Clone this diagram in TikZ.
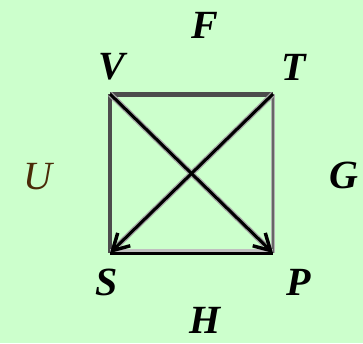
\documentclass[tikz,border=0pt]{standalone}
\usepackage{fontspec}
\setmainfont{Liberation Serif}
\usetikzlibrary{arrows.meta}
\definecolor{bg}{HTML}{CCFFCC}
\definecolor{ubrown}{HTML}{4A2A08}
\begin{document}
\begin{tikzpicture}[x=1pt,y=-1pt,
  lbl/.style={font=\fontsize{40}{40}\selectfont\bfseries\itshape, inner sep=0pt},
  edge/.style={line width=4pt},
  halo/.style={line width=5.5pt, color=black!35, shorten >=12pt},
  diag/.style={line width=3pt, -{Straight Barb[length=16pt,width=18pt,line width=3.5pt]}}]
\fill[bg] (0,0) rectangle (363,343);
\useasboundingbox (0,0) rectangle (363,343);
\coordinate (V) at (110,94);
\coordinate (T) at (273,94);
\coordinate (S) at (110,253);
\coordinate (P) at (273,253);
\draw[edge, color=black!70] (V) -- (S);
\draw[edge, color=black!70, line width=5pt] (V) -- (T);
\draw[line width=4pt, color=black!30] (T) -- (P);
\draw[line width=1.5pt, color=black!60] (T) -- (P);
\draw[line width=5pt, color=black!25] ([yshift=1.5pt]S) -- ([yshift=1.5pt]P);
\draw[line width=3pt, color=black] (S) -- (P);
\draw[halo] (V) -- (P);
\draw[halo] (T) -- (S);
\draw[diag] (V) -- (P);
\draw[diag] (T) -- (S);
\node[lbl] (nF) at (205,25) {F};
\node[lbl] (nV) at (112,67) {V};
\node[lbl] (nT) at (294,67) {T};
\node[lbl, font=\fontsize{40}{40}\selectfont\itshape, text=ubrown] (nU) at (38,177) {U};
\node[lbl] (nG) at (344,175) {G};
\node[lbl] (nS) at (107,282) {S};
\node[lbl] (nP) at (299,282) {P};
\node[lbl] (nH) at (205,320) {H};
\end{tikzpicture}
\end{document}
